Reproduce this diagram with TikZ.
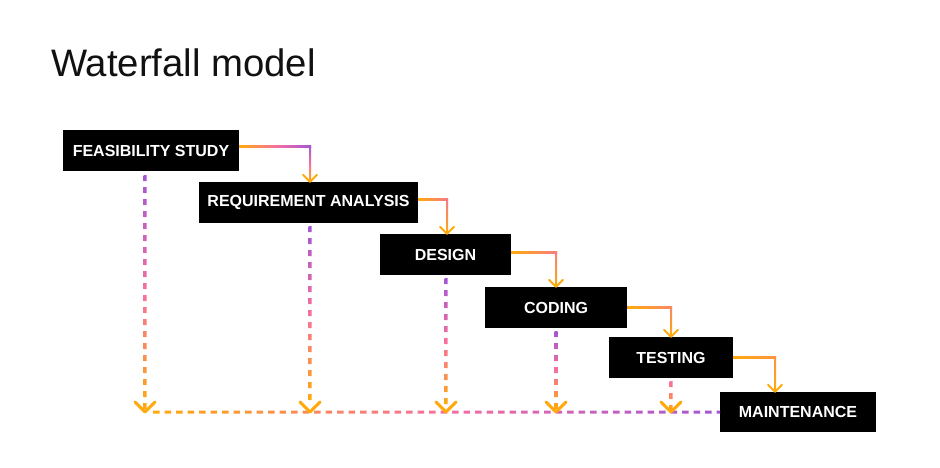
\documentclass[tikz,border=0pt]{standalone}
\usepackage{fontspec}
\setmainfont{Liberation Sans}
\usetikzlibrary{calc}
\definecolor{orangeC}{HTML}{FFAA0A}
\definecolor{pinkC}{HTML}{F7709C}
\definecolor{purpC}{HTML}{A455D6}
\definecolor{titleC}{HTML}{111111}
\tikzset{
  box/.style={fill=black, text=white, font=\bfseries\fontsize{16}{19}\selectfont, inner sep=0pt, minimum height=41pt},
  chevs/.style={draw=orangeC, line width=2pt, line cap=round, line join=round},
  chevd/.style={draw=orangeC, line width=3pt, line cap=round, line join=round},
}
% vertical gradient dashed line: x, y0, y1, top, middle, bottom colours
\newcommand{\gdashV}[6]{%
  \pgfmathtruncatemacro\nd{(#3-#2)/12}%
  \begin{scope}
    \clip \foreach \k in {0,...,\nd} { ({#1-1.5},{#2+12*\k}) rectangle ({#1+1.5},{#2+12*\k+6}) };
    \shade[top color=#4, bottom color=#6, middle color=#5] ({#1-2},#2) rectangle ({#1+2},{#2+12*\nd+7});
  \end{scope}}
% horizontal gradient dashed line: y, x0, x1
\newcommand{\gdashH}[3]{%
  \pgfmathtruncatemacro\nd{(#3-#2)/11.5}%
  \begin{scope}
    \clip \foreach \k in {0,...,\nd} { ({#2+11.5*\k},{#1-1.5}) rectangle ({#2+11.5*\k+6.5},{#1+1.5}) };
    \shade[left color=orangeC, right color=purpC, middle color=pinkC] (#2,{#1-2}) rectangle (#3,{#1+2});
  \end{scope}}
% solid gradient connector: start, corner, end, corner colour, h-mid, v-mid, v-bottom
\newcommand{\gconn}[7]{%
  \shade[left color=orangeC, right color=#4, middle color=#5] ($(#1)+(0,-1)$) rectangle ($(#2)+(1,1)$);
  \shade[top color=#4, bottom color=#7, middle color=#6] ($(#2)+(-1,0)$) rectangle ($(#3)+(1,0)$);
  \draw[chevs] ($(#3)+(-7,-7)$) -- (#3) -- ($(#3)+(7,-7)$);}
\begin{document}
\begin{tikzpicture}[x=1pt,y=-1pt]
\useasboundingbox[fill=white] (0,0) rectangle (940,467);

\node[anchor=base west, inner sep=0pt, text=titleC, font=\fontsize{38.3}{44}\selectfont] (title) at (51,76) {Waterfall model};

\node[box, minimum width=176pt] (feas) at (151,150.5) {FEASIBILITY STUDY};
\node[box, minimum width=219pt] (req) at (308.5,202.5) {REQUIREMENT ANALYSIS};
\node[box, minimum width=131pt] (des) at (445.5,254.5) {DESIGN};
\node[box, minimum width=142pt] (cod) at (556,307.5) {CODING};
\node[box, minimum width=124pt] (tes) at (671,357.5) {TESTING};
\node[box, minimum width=156pt, minimum height=40pt] (mai) at (798,412) {MAINTENANCE};

% solid connectors
\coordinate (s1) at ([yshift=4.5pt]feas.east);
\coordinate (k1) at (310,146);
\coordinate (e1) at (k1 |- req.north);
\gconn{s1}{k1}{e1}{purpC}{pinkC}{pinkC}{orangeC}

\coordinate (s2) at ([yshift=3.5pt]req.east);
\coordinate (k2) at (447,199);
\coordinate (e2) at (k2 |- des.north);
\gconn{s2}{k2}{e2}{pinkC!85!orangeC}{pinkC!45!orangeC}{pinkC!45!orangeC}{orangeC}

\coordinate (s3) at ([yshift=2.5pt]des.east);
\coordinate (k3) at (556,252);
\coordinate (e3) at (k3 |- cod.north);
\gconn{s3}{k3}{e3}{pinkC!80!orangeC}{pinkC!40!orangeC}{pinkC!40!orangeC}{orangeC}

\coordinate (s4) at (cod.east);
\coordinate (k4) at (671,307.5);
\coordinate (e4) at (k4 |- tes.north);
\gconn{s4}{k4}{e4}{pinkC!60!orangeC}{pinkC!30!orangeC}{pinkC!30!orangeC}{orangeC}

\coordinate (s5) at (tes.east);
\coordinate (k5) at (775,357);
\coordinate (e5) at (k5 |- mai.north);
\gconn{s5}{k5}{e5}{pinkC!40!orangeC}{pinkC!20!orangeC}{pinkC!20!orangeC}{orangeC}

% dashed lines
\gdashH{412}{153}{720}
\gdashV{145}{175}{405}{purpC}{pinkC}{orangeC}
\gdashV{310}{226}{405}{purpC}{pinkC}{orangeC}
\gdashV{446}{278}{405}{purpC}{pinkC}{orangeC}
\gdashV{556}{331}{405}{purpC}{pinkC}{orangeC}
\gdashV{671}{381}{405}{pinkC}{pinkC!60!orangeC}{orangeC}

% chevrons on the dashed lines
\foreach \xx/\nm in {145/a,310/b,446/c,556/d,671/e} {
  \coordinate (t\nm) at (\xx,412);
  \draw[chevd] ($(t\nm)+(-10,-10)$) -- (t\nm) -- ($(t\nm)+(10,-10)$);
}
\end{tikzpicture}
\end{document}
